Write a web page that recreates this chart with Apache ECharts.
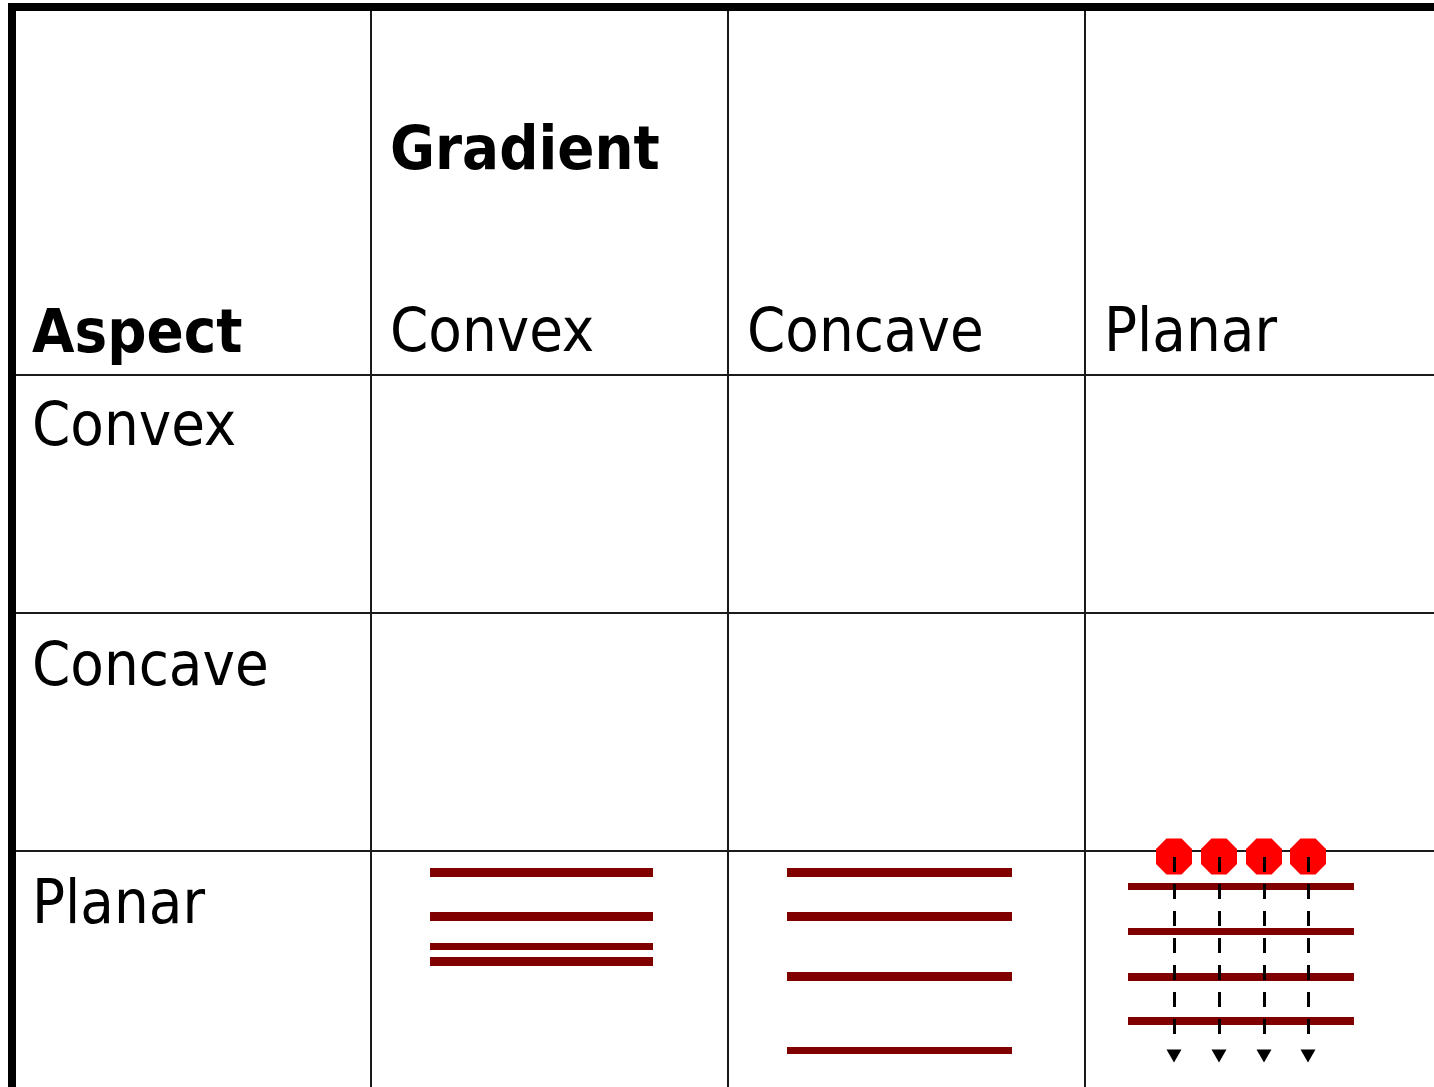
<!DOCTYPE html>
<html>
<head>
<meta charset="utf-8">
<script src="https://cdn.jsdelivr.net/npm/echarts@6/dist/echarts.min.js"></script>
<style>html,body{margin:0;padding:0;background:#fff}#c{width:1434px;height:1087px}</style>
</head>
<body>
<div id="c"></div>
<script>
// ---- data ----
const columnHeaders = ['Convex', 'Concave', 'Planar'];
const rowHeaders = ['Convex', 'Concave', 'Planar'];
const cornerLabel = 'Aspect';
const groupLabel = 'Gradient';
// table rule positions (diagram units)
const columnRules = [371, 728, 1085];
const rowRules = [375, 613, 851];
// strata levels in the Planar-aspect row
const convexLevels = [872, 916.5, 946.5, 961];
const concaveLevels = [872, 916.5, 976.5, 1050.5];
const planarLevels = [886.5, 931, 976.5, 1021];
const sourcePoints = [1174, 1219, 1264, 1308];

// ---- styles ----
const W = 1434, H = 1087;
const convexWidths = [9, 9, 7, 9];
const concaveWidths = [9, 9, 9, 7];
const planarWidths = [7, 7, 8, 8];
const FONT = '"DejaVu Sans Condensed", "Noto Sans", sans-serif';
const FS = 61;
const MID = FS * 0.297;

const seg = (x1, y1, x2, y2, style) => ({ coords: [[x1, y1], [x2, y2]], lineStyle: Object.assign({ opacity: 1, curveness: 0 }, style) });

const ruleData = [];
ruleData.push(seg(8, 7, W, 7, { color: '#000', width: 8 }));
ruleData.push(seg(12, 3, 12, H, { color: '#000', width: 8 }));
columnRules.forEach(x => ruleData.push(seg(x, 11, x, H, { color: '#1a1a1a', width: 2 })));
rowRules.forEach(y => ruleData.push(seg(16, y, W, y, { color: '#1a1a1a', width: 2 })));

const strata = [];
convexLevels.forEach((y, i) => strata.push(seg(430, y, 653, y, { color: '#800000', width: convexWidths[i] })));
concaveLevels.forEach((y, i) => strata.push(seg(787, y, 1012, y, { color: '#800000', width: concaveWidths[i] })));
planarLevels.forEach((y, i) => strata.push(seg(1128, y, 1354, y, { color: '#800000', width: planarWidths[i] })));

const flows = sourcePoints.map(x => seg(x, 857, x, 1038, { color: '#000', width: 3, type: [15, 12] }));

const textItems = [];
textItems.push({ value: [390, 171 - MID], name: groupLabel, bold: true });
textItems.push({ value: [32, 354 - MID], name: cornerLabel, bold: true });
columnHeaders.forEach((t, i) => textItems.push({ value: [columnRules[i] + 19, 353 - MID], name: t }));
const rowBaselines = [447, 687, 925];
rowHeaders.forEach((t, i) => textItems.push({ value: [32, rowBaselines[i] - MID], name: t }));

const octagon = 'path://M0.29,0 L0.71,0 L1,0.29 L1,0.71 L0.71,1 L0.29,1 L0,0.71 L0,0.29 Z';

const chart = echarts.init(document.getElementById('c'), null, { renderer: 'canvas' });
chart.setOption({
  animation: false,
  backgroundColor: '#fff',
  grid: { left: 0, right: 0, top: 0, bottom: 0 },
  xAxis: { type: 'value', min: 0, max: W, show: false },
  yAxis: { type: 'value', min: 0, max: H, inverse: true, show: false },
  series: [
    { type: 'lines', coordinateSystem: 'cartesian2d', data: ruleData, z: 1, silent: true, lineStyle: { opacity: 1 } },
    { type: 'lines', coordinateSystem: 'cartesian2d', data: strata, z: 2, silent: true, lineStyle: { opacity: 1 } },
    { type: 'scatter', symbol: octagon, symbolSize: 36, z: 3, silent: true,
      itemStyle: { color: '#ff0000', opacity: 1 },
      data: sourcePoints.map(x => [x, 856.5]) },
    { type: 'lines', coordinateSystem: 'cartesian2d', data: flows, z: 4, silent: true, lineStyle: { opacity: 1 } },
    { type: 'scatter', symbol: 'triangle', symbolRotate: 180, symbolSize: [15, 13], z: 5, silent: true,
      itemStyle: { color: '#000', opacity: 1 },
      data: sourcePoints.map(x => [x, 1056]) },
    { type: 'scatter', symbolSize: 0, z: 6, silent: true,
      itemStyle: { opacity: 1 },
      data: textItems.map(d => ({ value: d.value, name: d.name,
        label: { fontWeight: d.bold ? 'bold' : 'normal' } })),
      label: { show: true, position: [0, 0], align: 'left', verticalAlign: 'middle',
        formatter: p => p.name, fontFamily: FONT, fontSize: FS, color: '#000', opacity: 1 } }
  ]
});
</script>
</body>
</html>
